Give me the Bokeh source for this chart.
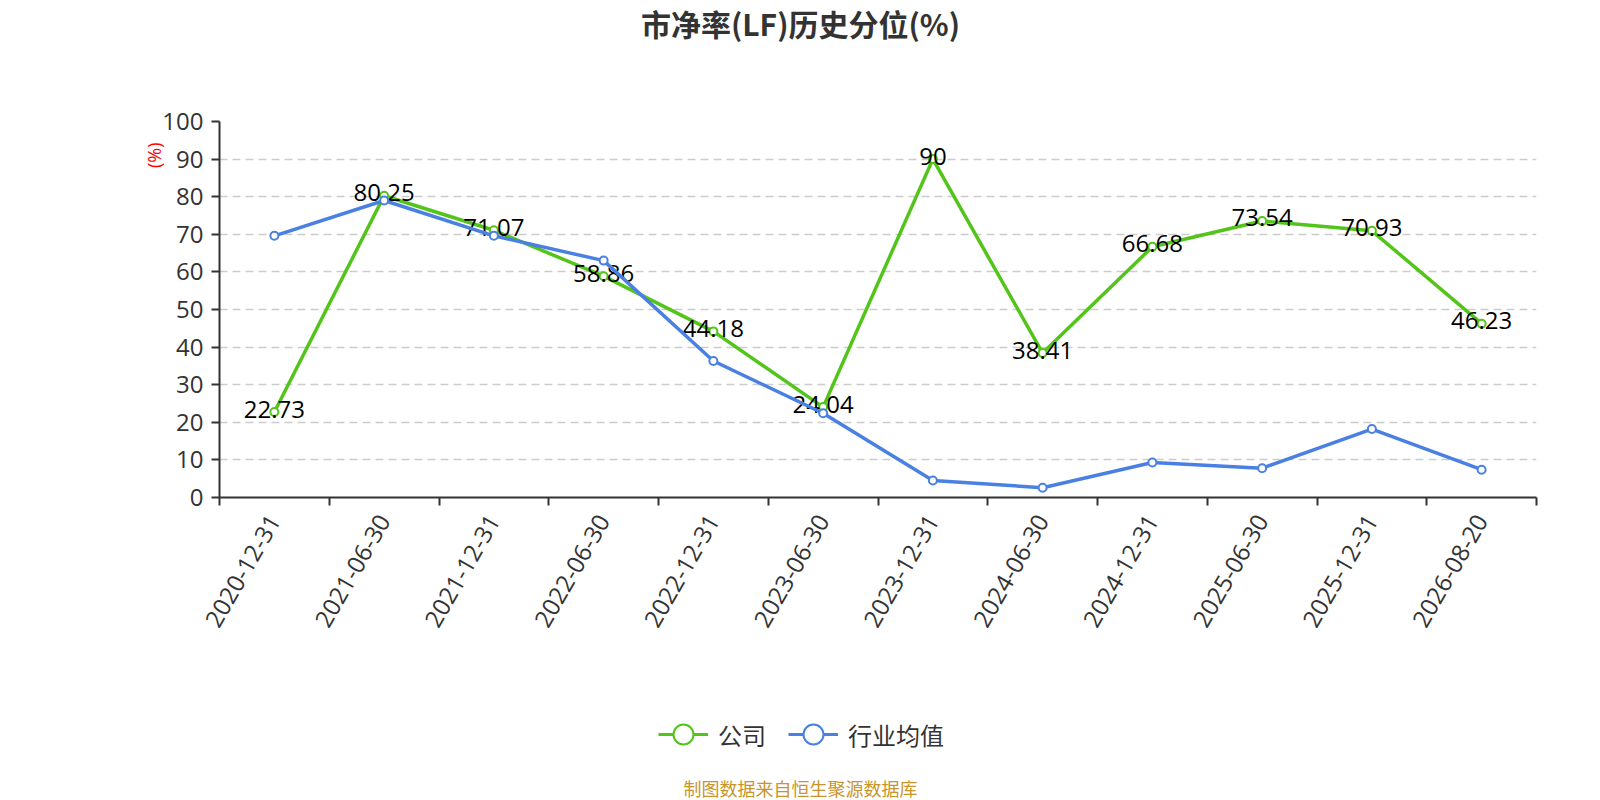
import math
from bokeh.plotting import figure
from bokeh.layouts import column
from bokeh.models import (Range1d, FixedTicker, Legend, LegendItem, Title, Label,
                          ColumnDataSource)
from bokeh.core.properties import value
from bokeh.embed import file_html
from bokeh.resources import INLINE

dates = ["2020-12-31", "2021-06-30", "2021-12-31", "2022-06-30", "2022-12-31", "2023-06-30",
         "2023-12-31", "2024-06-30", "2024-12-31", "2025-06-30", "2025-12-31", "2026-08-20"]
company = [22.73, 80.25, 71.07, 58.86, 44.18, 24.04, 90, 38.41, 66.68, 73.54, 70.93, 46.23]
industry = [69.6, 79.0, 69.6, 63.0, 36.3, 22.4, 4.5, 2.6, 9.3, 7.8, 18.2, 7.4]
y_ticks = [0, 10, 20, 30, 40, 50, 60, 70, 80, 90, 100]
series_names = ["公司", "行业均值"]
title_text = "市净率(LF)历史分位(%)"
source_text = "制图数据来自恒生聚源数据库"

GREEN = "#52c41a"
BLUE = "#4a80e2"
AXIS = "#333333"
NUM_FONT = "Open Sans"
CJK_FONT = "Noto Sans CJK SC"

n = len(dates)
xs = [i + 0.5 for i in range(n)]

W = 1600
TOP_H, MAIN_H, BOT_H = 80, 600, 120
FL, FT, FR, FB = 219, 121, 1536, 497   # frame box in page px
PAGE_H = TOP_H + MAIN_H + BOT_H


def bare(h):
    f = figure(width=W, height=h, output_backend="svg", toolbar_location=None,
               x_axis_type=None, y_axis_type=None, x_range=Range1d(0, 1), y_range=Range1d(0, 1),
               min_border_left=FL, min_border_right=W - FR, min_border_top=0,
               min_border_bottom=0)
    f.outline_line_color = None
    f.grid.visible = False
    f.title.visible = False
    return f


# ---------------- title strip (frame starts at x = FL, aligned with main chart)
ft = bare(TOP_H)
ft.add_layout(Label(x=800 - FL, y=TOP_H - 22, x_units="screen", y_units="screen",
                    text=title_text, text_align="center", text_baseline="middle",
                    text_font=CJK_FONT, text_font_size="30px", text_font_style="bold",
                    text_color=AXIS))

# ---------------- main chart
p = figure(width=W, height=MAIN_H, output_backend="svg", toolbar_location=None,
           x_range=Range1d(0, n), y_range=Range1d(0, 100),
           min_border_left=FL, min_border_right=W - FR,
           min_border_top=FT - TOP_H, min_border_bottom=TOP_H + MAIN_H - FB)
p.outline_line_color = None
p.title.visible = False

p.xgrid.visible = False
p.ygrid.ticker = FixedTicker(ticks=y_ticks)
p.ygrid.grid_line_color = "#cccccc"
p.ygrid.grid_line_width = 1.5
p.ygrid.grid_line_dash = "8 5"

ya = p.yaxis[0]
ya.ticker = FixedTicker(ticks=y_ticks)
ya.axis_line_color = AXIS
ya.axis_line_width = 2
ya.major_tick_line_color = AXIS
ya.major_tick_line_width = 2
ya.major_tick_out = 8
ya.major_tick_in = 0
ya.minor_tick_line_color = None
ya.major_label_text_font = NUM_FONT
ya.major_label_text_font_size = "24px"
ya.major_label_text_color = AXIS
ya.major_label_standoff = 8

xa = p.xaxis[0]
xa.ticker = FixedTicker(ticks=xs, minor_ticks=list(range(n + 1)))
xa.major_label_overrides = {x: d for x, d in zip(xs, dates)}
xa.axis_line_color = AXIS
xa.axis_line_width = 2
xa.major_tick_line_color = None
xa.major_tick_out = 8
xa.major_tick_in = 0
xa.minor_tick_line_color = AXIS
xa.minor_tick_line_width = 2
xa.minor_tick_out = 8
xa.minor_tick_in = 0
xa.major_label_orientation = math.pi / 3
xa.major_label_text_font = NUM_FONT
xa.major_label_text_font_size = "24px"
xa.major_label_text_color = AXIS
xa.major_label_standoff = 11

src = ColumnDataSource(dict(x=xs, c=company, i=industry,
                            lab=[f"{v:g}" for v in company]))

p.line("x", "c", source=src, line_color=GREEN, line_width=3.5)
p.scatter("x", "c", source=src, size=8, marker="circle", fill_color="white",
          line_color=GREEN, line_width=2)
p.text("x", "c", text="lab", source=src, text_align="center", text_baseline="middle",
       y_offset=-3, text_font=value(NUM_FONT), text_font_size="24px", text_color="black")

p.line("x", "i", source=src, line_color=BLUE, line_width=3.5)
p.scatter("x", "i", source=src, size=8, marker="circle", fill_color="white",
          line_color=BLUE, line_width=2)

p.add_layout(Title(text="(%)", align="right", offset=21, vertical_align="bottom",
                   standoff=-12, text_font=NUM_FONT, text_font_size="18px",
                   text_font_style="normal", text_color="red"), "left")

# ---------------- legend + source strip
fb = bare(BOT_H)
# legend-only renderers: one point placed outside the visible range
dummy = ColumnDataSource(dict(x=[-5], y=[-5]))
items = []
for name, col in zip(series_names, [GREEN, BLUE]):
    r1 = fb.line("x", "y", source=dummy, line_color=col, line_width=3)
    r2 = fb.scatter("x", "y", source=dummy, marker="circle", size=8, fill_color="white",
                    line_color=col, line_width=2)
    items.append(LegendItem(label=name, renderers=[r1, r2]))
legend = Legend(items=items, orientation="horizontal",
                location=(658 - FL, PAGE_H - 734 - 26),
                glyph_width=50, glyph_height=52, label_standoff=10, spacing=22,
                padding=0, margin=0, border_line_color=None, background_fill_alpha=0,
                label_text_font=CJK_FONT, label_text_font_size="24px",
                label_text_color=AXIS)
fb.add_layout(legend)
fb.add_layout(Label(x=800 - FL, y=PAGE_H - 787, x_units="screen", y_units="screen",
                    text=source_text, text_align="center", text_baseline="middle",
                    text_font=CJK_FONT, text_font_size="18px", text_color="#c8952c"))

layout = column(ft, p, fb, spacing=0)
open("out.html", "w").write(file_html(layout, INLINE))
